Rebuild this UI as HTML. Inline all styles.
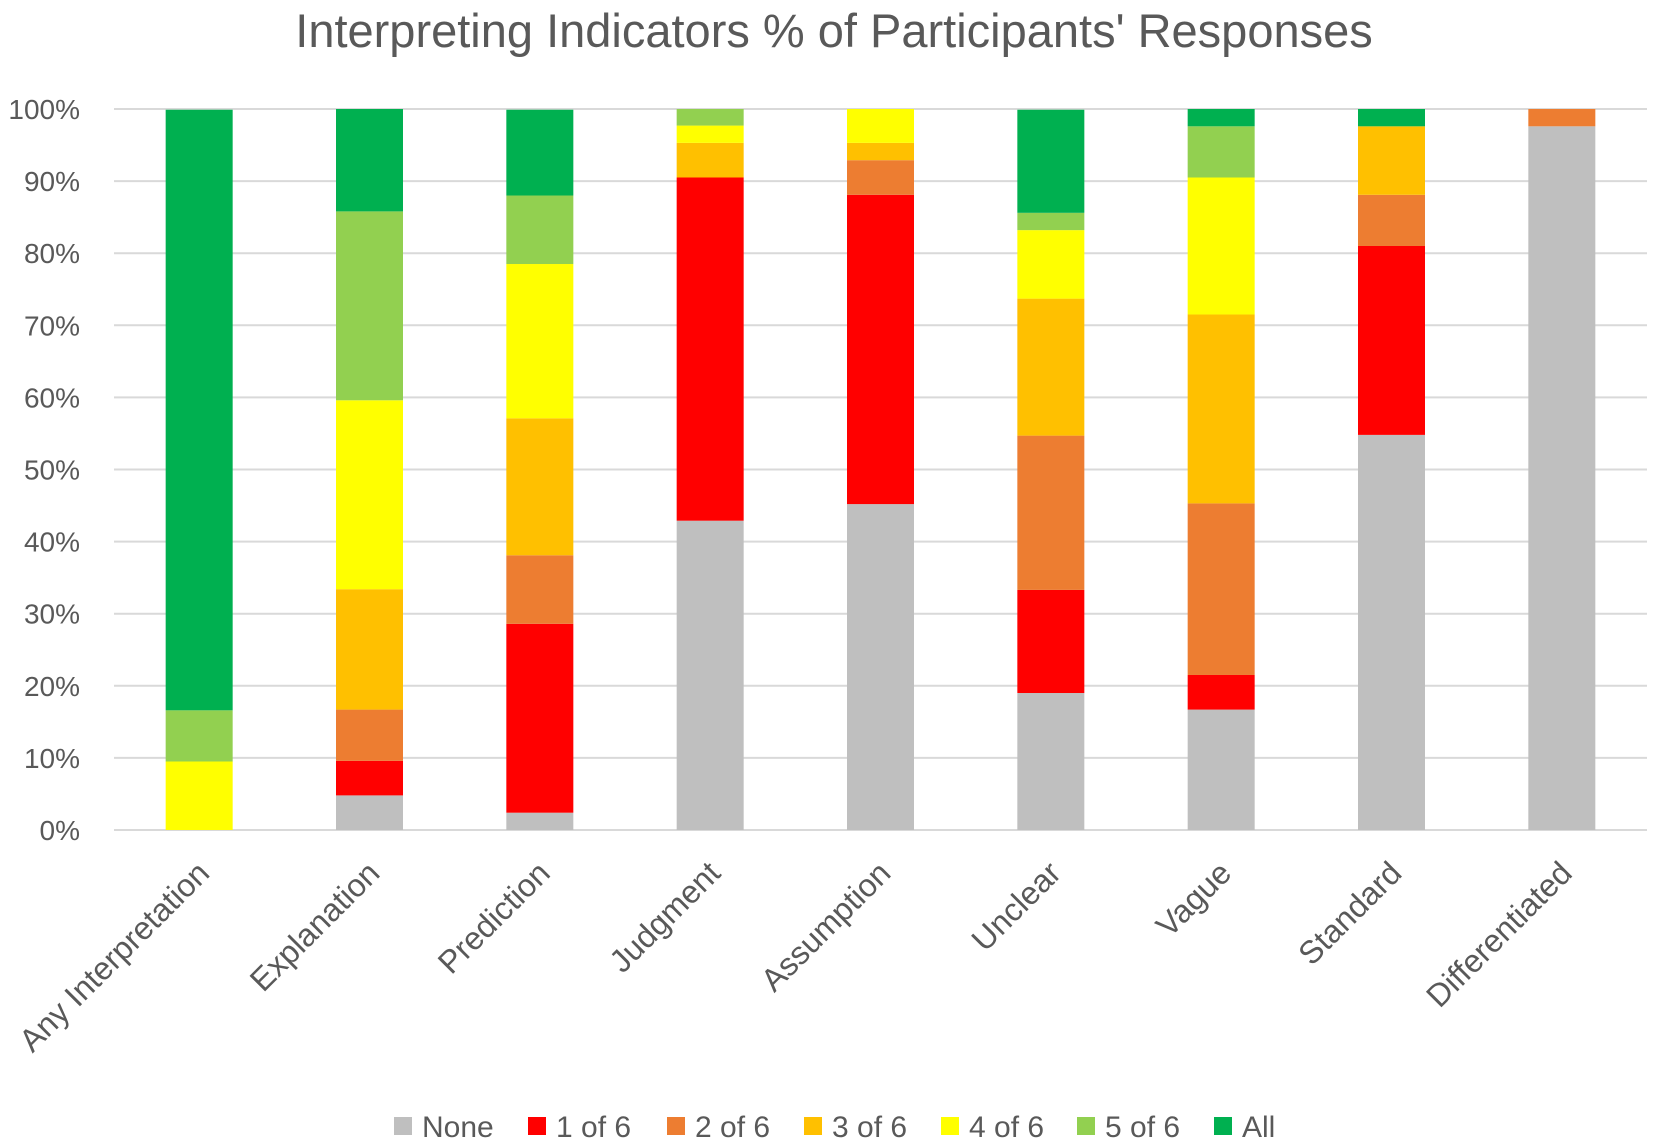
<!DOCTYPE html>
<html><head><meta charset="utf-8"><style>
body{margin:0;background:#fff;}
svg{display:block;font-family:"Liberation Sans",sans-serif;}
</style></head><body>
<svg id="chart" width="1655" height="1145">
<text x="834" y="47" text-anchor="middle" font-size="47" fill="#595959">Interpreting Indicators % of Participants' Responses</text>
<g id="grid"></g><g id="bars"></g><g id="xlabels"></g><g id="legend"></g>
</svg>
<script>
const categories=["Any Interpretation","Explanation","Prediction","Judgment","Assumption","Unclear","Vague","Standard","Differentiated"];
const seriesNames=["None","1 of 6","2 of 6","3 of 6","4 of 6","5 of 6","All"];
const colors=["#bfbfbf","#ff0000","#ed7d31","#ffc000","#ffff00","#92d050","#00b050"];
const sNone=[0,4.8,2.4,42.9,45.2,19,16.7,54.8,97.6];
const s1of6=[0,4.8,26.2,47.6,42.9,14.3,4.8,26.2,0];
const s2of6=[0,7.1,9.5,0,4.8,21.4,23.8,7.1,2.4];
const s3of6=[0,16.7,19,4.8,2.4,19,26.2,9.5,0];
const s4of6=[9.5,26.2,21.4,2.4,4.8,9.5,19,0,0];
const s5of6=[7.1,26.2,9.5,2.4,0,2.4,7.1,0,0];
const sAll=[83.3,14.3,11.9,0,0,14.3,2.4,2.4,0];
const ticks=[0,10,20,30,40,50,60,70,80,90,100];
const series=[sNone,s1of6,s2of6,s3of6,s4of6,s5of6,sAll];
const NS="http://www.w3.org/2000/svg";
const L=114,R=1647,T=109,B=830,bw=67;
const y=v=>B-(v/100)*(B-T);
const band=(R-L)/categories.length;
const x=i=>L+band*(i+0.5);
function mk(t,a,p){const e=document.createElementNS(NS,t);for(const k in a)e.setAttribute(k,a[k]);p.appendChild(e);return e;}
const g=document.getElementById('grid');
ticks.forEach(t=>{
 const ln=mk('line',{x1:L,x2:R,y1:y(t),y2:y(t),stroke:'#d9d9d9','stroke-width':2},g);
 
 
 const tx=mk('text',{x:80,y:y(t)+10,'text-anchor':'end','font-size':28,fill:'#595959'},g);
 tx.textContent=t+'%';
 
 
});
const bg=document.getElementById('bars');
categories.forEach((c,i)=>{
 let acc=0;
 series.forEach((s,j)=>{
  const v=s[i]; if(v<=0)return;
  const top=Math.min(100,acc+v);
  const r=mk('rect',{x:x(i)-bw/2,y:y(top),width:bw,height:y(acc)-y(top),fill:colors[j]},bg);
  
  
  acc=top;
 });
 const xl=document.getElementById('xlabels');
 const t=mk('text',{x:0,y:0,'text-anchor':'end','font-size':32,fill:'#595959',transform:`translate(${x(i)+12},${875}) rotate(-45)`},xl);
 t.textContent=c;
 
 
});
const lg=document.getElementById('legend');
const lx=[394,528,667,804,941,1077,1214];
seriesNames.forEach((n,j)=>{
 const r=mk('rect',{x:lx[j],y:1117,width:18,height:18,fill:colors[j]},lg);
 
 
 const t=mk('text',{x:lx[j]+28,y:1137,'font-size':30,fill:'#595959'},lg);
 t.textContent=n;
 
 
});
</script>
</body></html>
